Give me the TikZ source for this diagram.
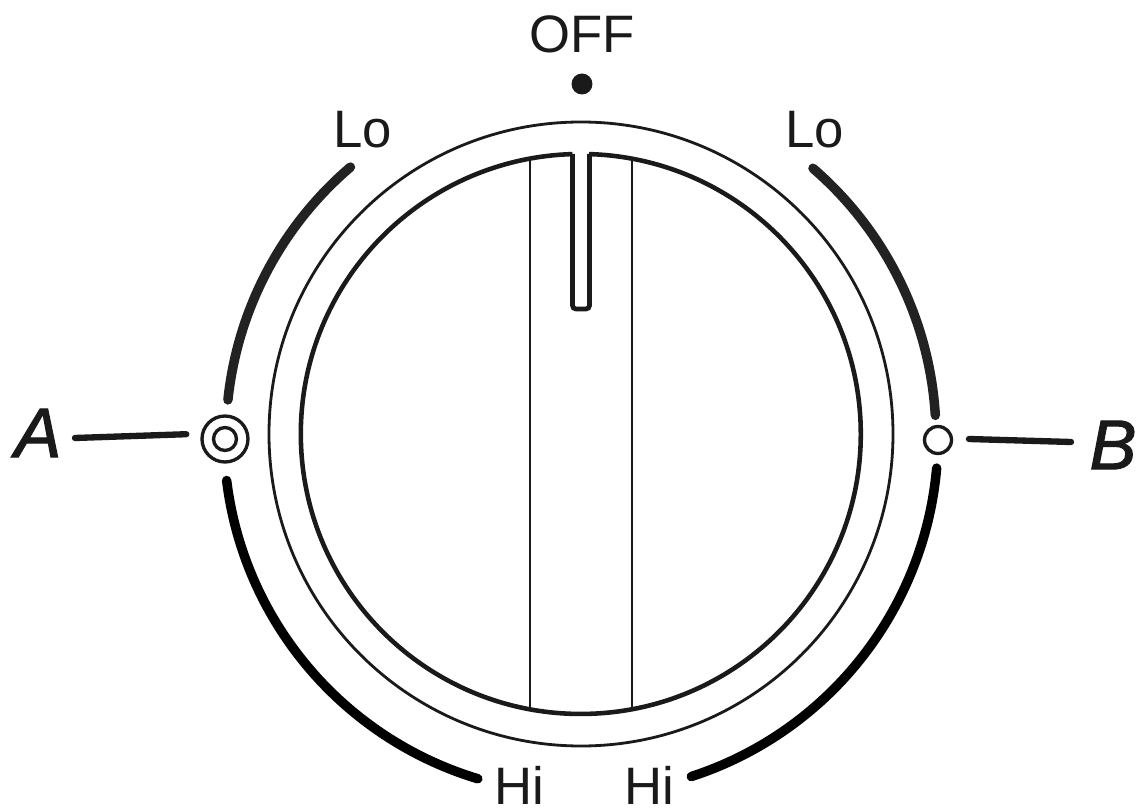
\documentclass[tikz,border=0pt]{standalone}
\usepackage{fontspec}
\setmainfont{Liberation Sans}
\newfontface\tagfont{Liberation Sans Italic}[FakeBold=1.6]
\usetikzlibrary{calc}
\definecolor{ink}{HTML}{1A1A1A}
\definecolor{inkdark}{HTML}{000000}
\definecolor{inkgrey}{HTML}{222222}
\tikzset{
  bar/.style={line width=5.4pt,line cap=round,draw=#1},
  bar/.default=ink,
  lead/.style={line width=3.6pt,line cap=round,draw=ink},
  lbl/.style={font=\fontsize{30}{30}\selectfont,text=ink,inner sep=0pt},
  tag/.style={font=\fontsize{40}{40}\tagfont,text=ink,inner sep=0pt},
  mark ring/.style={circle,draw=ink,fill=white,line width=#1,inner sep=0pt},
}
\begin{document}
\begin{tikzpicture}[x=0.02cm,y=0.02cm]
  \useasboundingbox (-581,434) rectangle (561,-377);
  \draw[ink,line width=1.6pt] (0,0) circle (312);
  \draw[ink,line width=1.1pt] (-51,275) -- (-51,-275);
  \draw[ink,line width=1.1pt] (51,275) -- (51,-275);
  \draw[ink,line width=2.7pt,fill=white,rounded corners=2pt]
    (8.5,280) -- (8.5,125) -- (-8.5,125) -- (-8.5,280);
  \draw[ink,line width=2.6pt] (-8.5,279.9) arc[start angle=91.7,end angle=448.3,radius=280];
  \foreach \from/\to/\c in {130.5/174/inkgrey,49.2/3.5/inkgrey}{
    \draw[bar=\c,shift={(0,-3)}] (\from:355) arc[start angle=\from,end angle=\to,radius=355];
  }
  \foreach \from/\to/\c in {187/253.2/inkdark,-5/-72/inkdark}{
    \draw[bar=\c,shift={(0,-3)}] (\from:357) arc[start angle=\from,end angle=\to,radius=357];
  }
  \node[circle,fill=ink,minimum size=0.42cm,inner sep=0pt] (offdot) at (1,350) {};
  \node[lbl] (off) at (1,400) {OFF};
  \node[lbl] (loA) at (-218,304) {Lo};
  \node[lbl] (loB) at (234,304) {Lo};
  \node[lbl] (hiA) at (-62,-351) {Hi};
  \node[lbl] (hiB) at (68,-351) {Hi};
  \node[mark ring=1.9pt,minimum size=0.92cm] (ringA) at (-356,-5) {};
  \node[mark ring=1.9pt,minimum size=0.46cm] (coreA) at (ringA) {};
  \node[mark ring=1.9pt,minimum size=0.54cm] (ringB) at (357,-6) {};
  \node[tag] (tagA) at (-543,1) {A};
  \node[tag] (tagB) at (532,-11) {B};
  \coordinate (tailA) at (-506,-4);
  \coordinate (tailB) at (388,-5);
  \coordinate (headB) at (490,-8);
  \draw[lead,shorten >=8pt] (tailA) -- ([yshift=3pt]ringA.west);
  \draw[lead] (tailB) -- (headB);
\end{tikzpicture}
\end{document}
